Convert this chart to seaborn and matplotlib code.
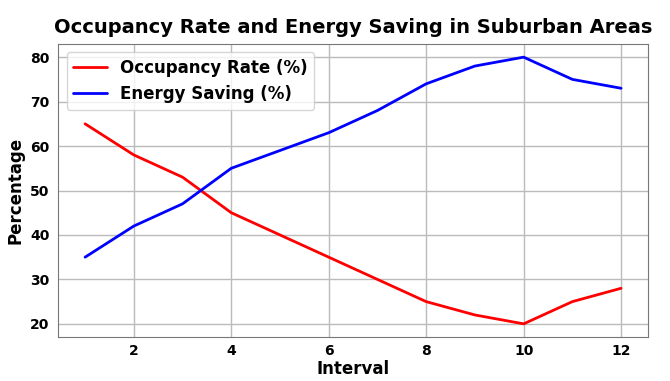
import pandas as pd
import matplotlib
matplotlib.use('Agg')
import matplotlib.pyplot as plt
import seaborn as sns

# --- データ ---
intervals = [1, 2, 3, 4, 5, 6, 7, 8, 9, 10, 11, 12]
occupancy_rate = [65, 58, 53, 45, 40, 35, 30, 25, 22, 20, 25, 28]
energy_saving = [35, 42, 47, 55, 59, 63, 68, 74, 78, 80, 75, 73]

df = pd.DataFrame({
    'Interval': intervals * 2,
    'value': occupancy_rate + energy_saving,
    'series': ['Occupancy Rate (%)'] * len(intervals) + ['Energy Saving (%)'] * len(intervals),
})

sns.set_style('whitegrid')
plt.rcParams['font.family'] = ['DejaVu Sans']
plt.rcParams['text.color'] = 'black'
plt.rcParams['axes.labelcolor'] = 'black'
plt.rcParams['xtick.color'] = 'black'
plt.rcParams['ytick.color'] = 'black'

fig, ax = plt.subplots(figsize=(6.7, 3.81), dpi=100)
sns.lineplot(data=df, x='Interval', y='value', hue='series',
             palette=['red', 'blue'], linewidth=2, ax=ax)

ax.set_title('Occupancy Rate and Energy Saving in Suburban Areas',
             fontsize=14, fontweight='bold', color='black', pad=8)
ax.set_xlabel('Interval', fontsize=12, fontweight='bold', labelpad=1)
ax.set_ylabel('Percentage', fontsize=12, fontweight='bold')
ax.set_xticks([2, 4, 6, 8, 10, 12])
ax.set_yticks([20, 30, 40, 50, 60, 70, 80])
ax.tick_params(axis='both', labelsize=10, length=3, color='#333333')
ax.tick_params(axis='x', pad=2)
for lbl in ax.get_xticklabels() + ax.get_yticklabels():
    lbl.set_fontweight('bold')
ax.grid(True, color='#bbbbbb', linewidth=1)
for s in ax.spines.values():
    s.set_color('#777777')

leg = ax.legend(loc='upper left', prop={'weight': 'bold', 'size': 12})
for t in leg.get_texts():
    t.set_color('black')

fig.subplots_adjust(left=0.087, right=0.967, top=0.885, bottom=0.115)
fig.savefig('out.png', dpi=100)
